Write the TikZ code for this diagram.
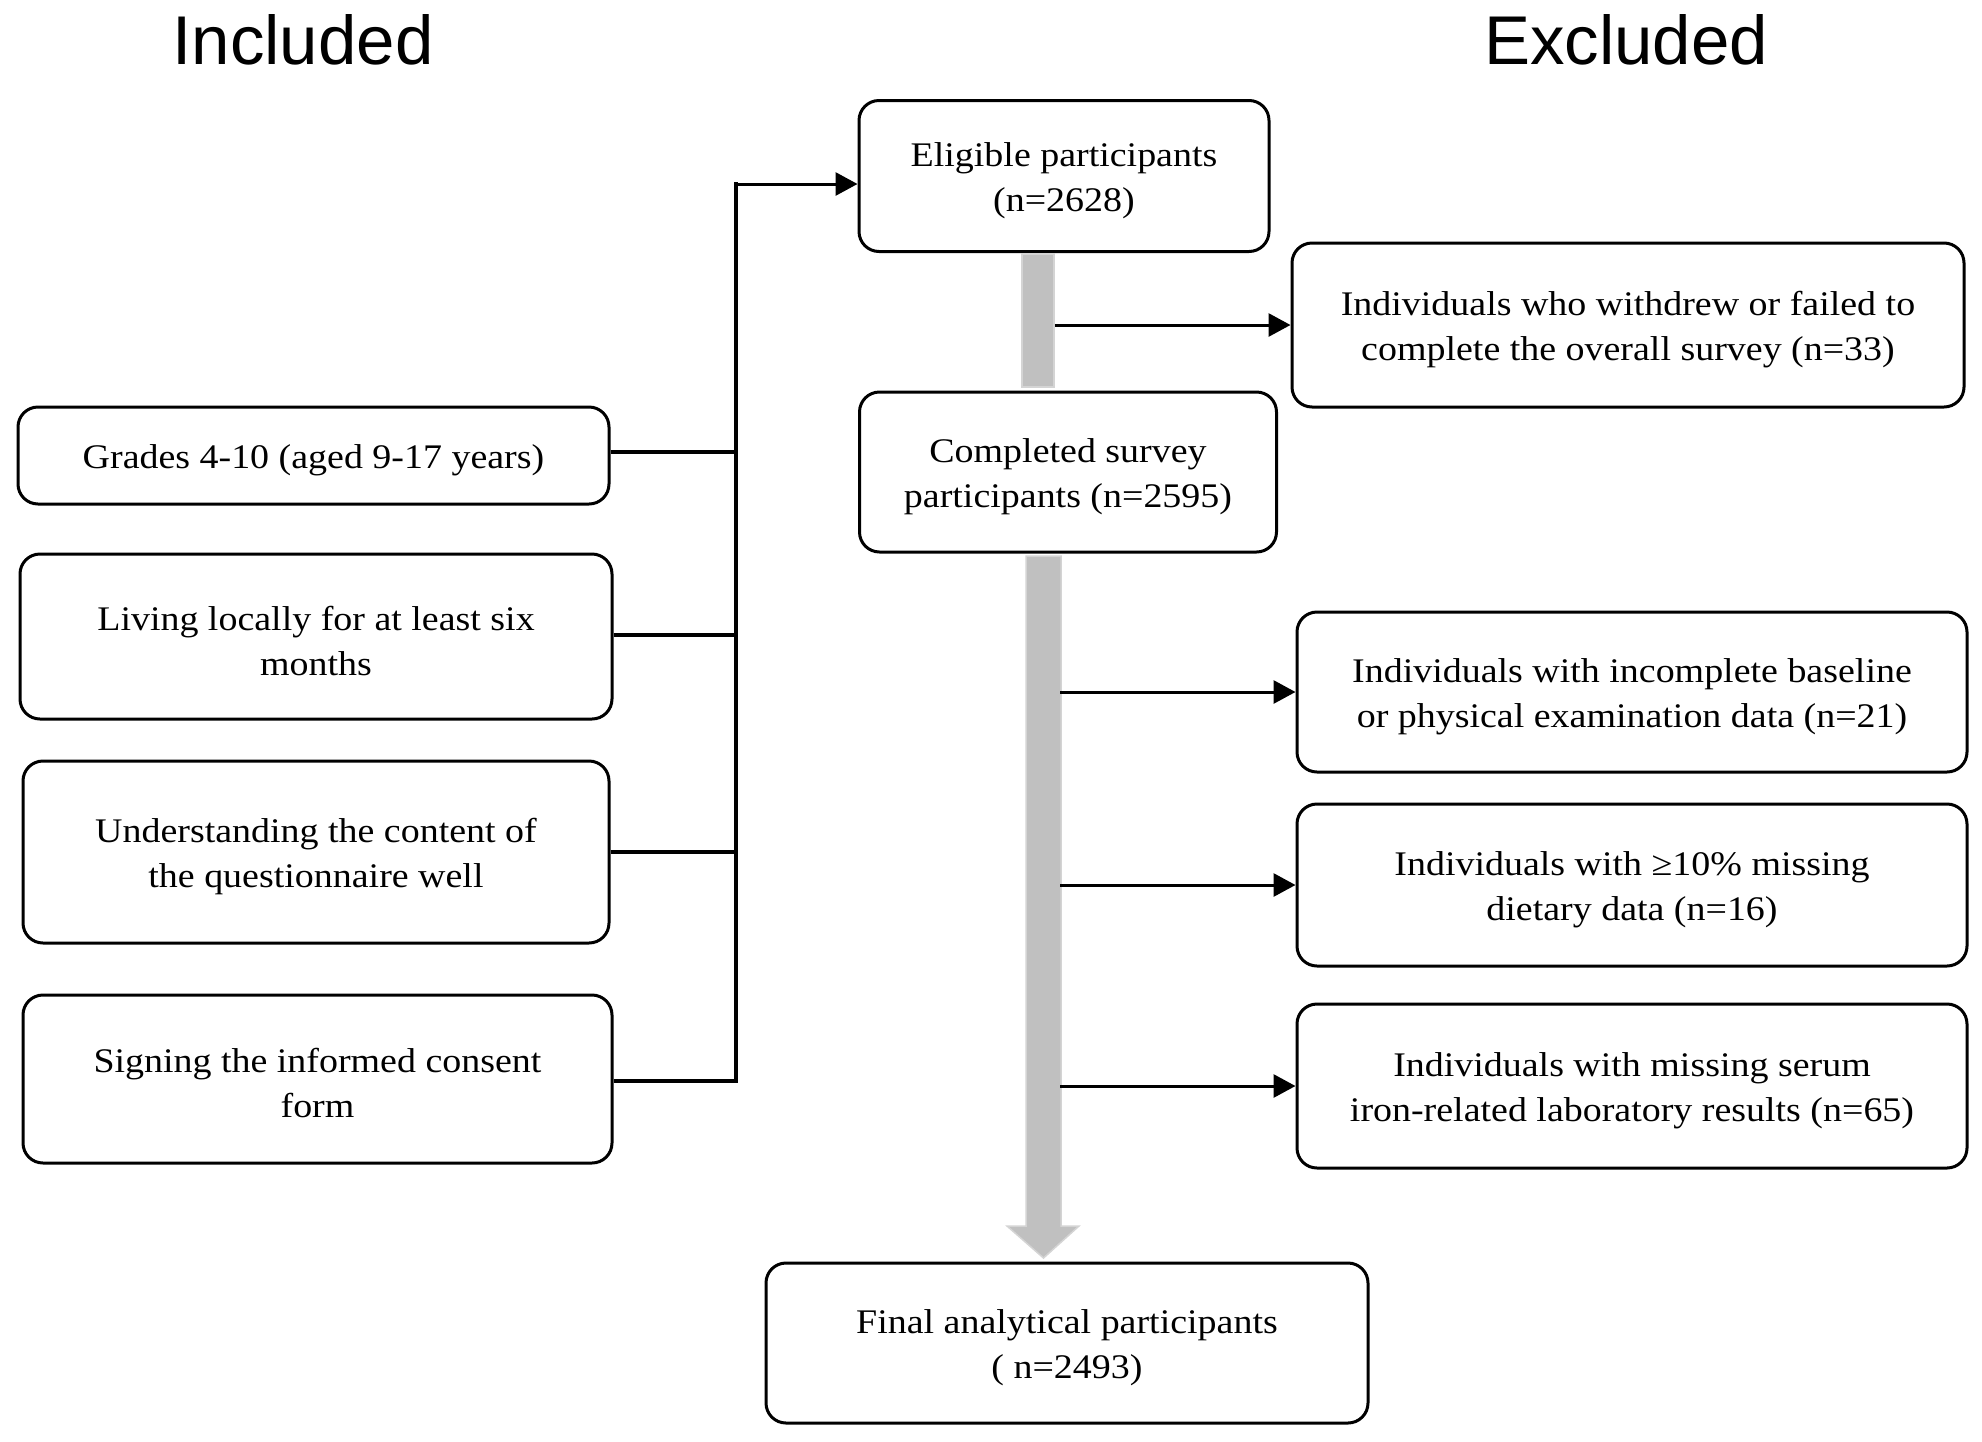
\documentclass[tikz,border=0pt]{standalone}
\usepackage{fontspec}
\setmainfont{Liberation Serif}[FakeStretch=1.1]
\newfontfamily\titlefont{Liberation Sans}
\usetikzlibrary{arrows.meta,calc}
\definecolor{barfill}{RGB}{192,192,192}
\definecolor{baredge}{RGB}{212,212,212}
\newcommand{\tp}{\rule{0pt}{33pt}}
\begin{document}
\begin{tikzpicture}[x=1pt,y=-1pt,
  box/.style={draw,line width=3pt,rounded corners=20pt,align=center,inner sep=0pt,
    font=\fontsize{34.5}{45}\selectfont},
  ttl/.style={font=\titlefont\fontsize{69}{69}\selectfont,inner sep=0pt},
  arr/.style={line width=3pt,-{Triangle[length=22pt,width=23pt]}},
  brk/.style={line width=4.5pt},
  barstyle/.style={fill=barfill,draw=baredge,line width=1.5pt,inner sep=0pt}]
\useasboundingbox (0,0) rectangle (1982,1441);

% titles
\node[ttl] (inc) at (303,40) {Included};
\node[ttl] (exc) at (1626,40) {Excluded};

% central column
\node[box,minimum width=410pt,minimum height=151pt] (elig) at (1064,176)
  {\tp Eligible participants\\(n=2628)};
\node[box,minimum width=417pt,minimum height=160pt] (compl) at (1068,472)
  {\tp Completed survey\\participants (n=2595)};
\node[box,minimum width=602pt,minimum height=160pt] (final) at (1067,1343)
  {\tp Final analytical participants\\( n=2493)};

% exclusion boxes
\node[box,minimum width=672pt,minimum height=164pt] (withd) at (1628,325)
  {\tp Individuals who withdrew or failed to\\complete the overall survey (n=33)};
\node[box,minimum width=670pt,minimum height=160pt] (incompl) at (1632,692)
  {\tp Individuals with incomplete baseline\\or physical examination data (n=21)};
\node[box,minimum width=670pt,minimum height=162pt] (missing) at (1632,885)
  {\tp Individuals with ≥10\% missing\\dietary data (n=16)};
\node[box,minimum width=670pt,minimum height=164pt] (serum) at (1632,1086)
  {\tp Individuals with missing serum\\iron-related laboratory results (n=65)};

% inclusion boxes
\node[box,minimum width=591pt,minimum height=97pt] (grades) at (313.5,455.5)
  {\tp Grades 4-10 (aged 9-17 years)};
\node[box,minimum width=592pt,minimum height=165pt] (living) at (316,636.5)
  {\tp Living locally for at least six\\months};
\node[box,minimum width=586pt,minimum height=182pt] (underst) at (316,852)
  {\tp Understanding the content of\\the questionnaire well};
\node[box,minimum width=589pt,minimum height=168pt] (sign) at (317.5,1079)
  {\tp Signing the informed consent\\form};

% inclusion bracket
\coordinate (btop) at (736,184);
\coordinate (bbot) at (736,1081);
\draw[brk] ($(btop)+(0,-2)$) -- ($(bbot)+(0,2)$);
\draw[brk] (grades.east |- 0,452) -- (btop |- 0,452);
\draw[brk] (living.east |- 0,635) -- (btop |- 0,635);
\draw[brk] (underst.east |- 0,852) -- (btop |- 0,852);
\draw[brk] (sign.east |- bbot) -- (bbot);
\draw[arr] (btop) -- (btop -| elig.west);

% grey flow bars
\node[barstyle,minimum width=32pt,minimum height=133pt] (bar1) at (1038,320.5) {};
\coordinate (gtop) at (1043.5,556);
\coordinate (gtip) at (1043.5,1258);
\draw[barstyle] ($(gtop)+(-17.5,0)$) -- ($(gtop)+(17.5,0)$) -- ($(gtip)+(17.5,-32)$)
  -- ($(gtip)+(35.5,-32)$) -- (gtip) -- ($(gtip)+(-36.5,-32)$) -- ($(gtip)+(-17.5,-32)$) -- cycle;
\coordinate (sh) at (1060,556);

% exclusion arrows
\draw[arr] (bar1.east |- withd.west) -- (withd.west);
\draw[arr] (sh |- incompl.west) -- (incompl.west);
\draw[arr] (sh |- missing.west) -- (missing.west);
\draw[arr] (sh |- serum.west) -- (serum.west);
\end{tikzpicture}
\end{document}
